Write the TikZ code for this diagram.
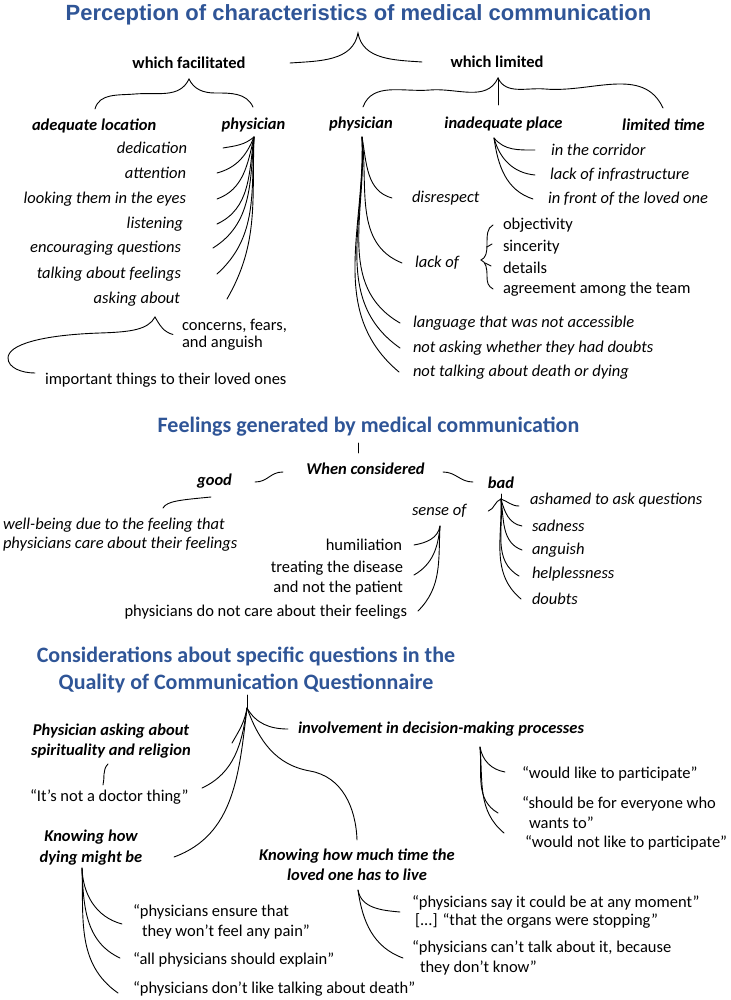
\documentclass[tikz,border=0pt]{standalone}
\usepackage{fontspec}
\setmainfont{Carlito}
\newfontfamily\arialfont{Liberation Sans}
\definecolor{tblue}{RGB}{47,85,151}
\tikzset{
  every node/.style={inner sep=0pt, outer sep=0pt},
  tone/.style={font=\arialfont\bfseries\fontsize{22}{26}\selectfont, text=tblue},
  ttwo/.style={font=\bfseries\fontsize{22}{27}\selectfont, text=tblue, align=center},
  bh/.style={font=\bfseries\fontsize{16.5}{20}\selectfont},
  bi/.style={font=\bfseries\itshape\fontsize{16.5}{20}\selectfont, align=center},
  it/.style={font=\itshape\fontsize{16.5}{20}\selectfont, align=left},
  rg/.style={font=\fontsize{16.5}{20}\selectfont, align=left},
  ln/.style={line width=0.9pt, line cap=round}
}
\begin{document}
\begin{tikzpicture}[x=1pt,y=1pt]
\useasboundingbox (0,0) rectangle (730,-1000);
\fill[white] (0,0) rectangle (730,-1000);
% ---------------- Section 1 ----------------
\node[tone] (title1) at (358.5,-15) {Perception of characteristics of medical communication};
\node[bh] (wf) at (189,-63) {which facilitated};
\node[bh] (wl) at (497,-62) {which limited};
\node[bi, anchor=west] (adloc) at (32,-126) {adequate location};
\node[bi] (phf) at (253.5,-125) {physician};
\node[bi] (phl) at (361,-124) {physician};
\node[bi] (inp) at (503.5,-124) {inadequate place};
\node[bi] (lt) at (663.5,-125) {limited time};

\node[it, anchor=east] (ded) at (187,-148) {dedication};
\node[it, anchor=east] (att) at (186,-173) {attention};
\node[it, anchor=east] (look) at (186,-199) {looking them in the eyes};
\node[it, anchor=east] (lis) at (183,-224) {listening};
\node[it, anchor=east] (enc) at (181,-248) {encouraging questions};
\node[it, anchor=east] (talk) at (181,-274) {talking about feelings};
\node[it, anchor=east] (ask) at (180,-299) {asking about};
\node[rg, anchor=west] (conc) at (182,-334.5) {concerns, fears,\\[-3pt]and anguish};
\node[rg, anchor=west] (imp) at (45,-380) {important things to their loved ones};

\node[it, anchor=west] (disr) at (412,-198) {disrespect};
\node[it, anchor=west] (lackof) at (415,-263) {lack of};
\node[rg, anchor=west] (obj) at (503,-225) {objectivity};
\node[rg, anchor=west] (sinc) at (503,-247) {sincerity};
\node[rg, anchor=west] (det) at (503,-268) {details};
\node[rg, anchor=west] (agr) at (503,-289) {agreement among the team};
\node[it, anchor=west] (lang) at (413,-323) {language that was not accessible};
\node[it, anchor=west] (nask) at (413,-348) {not asking whether they had doubts};
\node[it, anchor=west] (ntalk) at (413,-372) {not talking about death or dying};
\node[it, anchor=west] (corr) at (551,-150) {in the corridor};
\node[it, anchor=west] (infra) at (550,-175) {lack of infrastructure};
\node[it, anchor=west] (front) at (548,-199) {in front of the loved one};

% braces
\coordinate (b1a) at (358,-33);
\coordinate (b1l) at (290,-63);
\coordinate (b1r) at (422,-62);
\draw[ln] (b1l) to[out=4,in=-100] (b1a) to[out=-80,in=176] (b1r);
\coordinate (bfa) at (189,-79);
\coordinate (bfl) at (95,-109);
\coordinate (bfr) at (253,-107);
\draw[ln] (bfl) to[out=75,in=185] (135,-94) to[out=5,in=-115] (bfa)
          to[out=-65,in=180] (215,-93) to[out=0,in=115] (bfr);
\coordinate (bla) at (498,-78);
\coordinate (blL) at (363,-107);
\coordinate (blR) at (663,-108);
\draw[ln] (blL) to[out=70,in=185] (430,-90) to[out=5,in=-115] (bla)
          to[out=-65,in=175] (545,-89) to[out=-5,in=115] (blR);
\draw[ln] (bla) -- (498,-105);

% physician (facilitated)
\coordinate (pfo) at (254,-137);
\draw[ln] (pfo) to[out=-140,in=10] ([xshift=36]ded.east);
\draw[ln] (pfo) to[out=-112,in=15] ([xshift=31]att.east);
\draw[ln] (pfo) to[out=-103,in=20] ([xshift=31]look.east);
\draw[ln] (pfo) to[out=-98,in=25] ([xshift=34]lis.east);
\draw[ln] (pfo) to[out=-95,in=32] ([xshift=32]enc.east);
\draw[ln] (pfo) to[out=-93,in=42] ([xshift=36]talk.east);
\draw[ln] (pfo) to[out=-92,in=60] ([xshift=47]ask.east);
% asking about brace
\coordinate (aba) at (155,-317);
\draw[ln] (aba) to[out=-60,in=165] ([xshift=-9]conc.west);
\draw[ln] (aba) .. controls (148,-330) and (130,-332) .. (100,-333)
          .. controls (40,-335) and (8,-345) .. (8,-358)
          .. controls (8,-368) and (22,-373) .. ([xshift=-10,yshift=7]imp.west);

% physician (limited)
\coordinate (plo) at (362,-137);
\draw[ln] (plo) to[out=-80,in=165] ([xshift=-20]disr.west);
\draw[ln] (plo) to[out=-83,in=158] ([xshift=-13]lackof.west);
\draw[ln] (plo) to[out=-86,in=150] ([xshift=-13]lang.west);
\draw[ln] (plo) to[out=-87,in=145] ([xshift=-13]nask.west);
\draw[ln] (plo) to[out=-88,in=140] ([xshift=-14]ntalk.west);
% lack of brace
\draw[ln] (493,-225) .. controls (487,-228) and (487,-235) .. (487,-245)
          .. controls (487,-252) and (486,-258) .. (481,-260)
          .. controls (486,-262) and (487,-268) .. (487,-276)
          .. controls (487,-283) and (488,-286) .. (493,-289);
\draw[ln] (487,-247) -- (492,-244);
\draw[ln] (485,-263) -- (491,-266);
% inadequate place
\coordinate (ipo) at (494,-138);
\draw[ln] (ipo) to[out=-50,in=180] ([xshift=-16]corr.west);
\draw[ln] (ipo) to[out=-75,in=175] ([xshift=-15]infra.west);
\draw[ln] (ipo) to[out=-82,in=162] ([xshift=-15]front.west);

% ---------------- Section 2 ----------------
\node[ttwo] (title2) at (368.5,-427) {Feelings generated by medical communication};
\node[bi] (when) at (365.5,-469) {When considered};
\node[bi] (good) at (214.5,-481) {good};
\node[bi] (bad) at (501,-483) {bad};
\node[it, anchor=west] (wellb) at (3,-534.5) {well-being due to the feeling that\\[-1pt]physicians care about their feelings};
\node[it, anchor=west] (senseof) at (412,-511) {sense of};
\node[rg, anchor=east] (humil) at (402,-545) {humiliation};
\node[rg, anchor=east, align=right] (treat) at (403,-578) {treating the disease\\and not the patient};
\node[rg, anchor=east] (pdnc) at (407,-612) {physicians do not care about their feelings};
\node[it, anchor=west] (ashamed) at (530,-500) {ashamed to ask questions};
\node[it, anchor=west] (sad) at (532,-526) {sadness};
\node[it, anchor=west] (ang) at (532,-550) {anguish};
\node[it, anchor=west] (help) at (532,-574) {helplessness};
\node[it, anchor=west] (doub) at (532,-599) {doubts};

\draw[ln] (358,-443) -- (358,-453);
\draw[ln] (255,-482) .. controls (268,-482) and (270,-472) .. (283,-472);
\draw[ln] (443,-472) .. controls (456,-472) and (460,-482) .. (473,-482);
\draw[ln] (163,-508) .. controls (167,-501) and (180,-500) .. (211,-497);
\coordinate (so) at (440,-526);
\draw[ln] (so) to[out=-100,in=10] ([xshift=12]humil.east);
\draw[ln] (so) to[out=-95,in=30] ([xshift=11,yshift=3]treat.east);
\draw[ln] (so) to[out=-93,in=45] ([xshift=11,yshift=1]pdnc.east);
\coordinate (bo) at (501,-499);
\draw[ln] (501,-494) -- (bo);
\draw[ln] (bo) to[out=-20,in=180] ([xshift=-11,yshift=-6]ashamed.west);
\draw[ln] (bo) to[out=-75,in=170] ([xshift=-10]sad.west);
\draw[ln] (bo) to[out=-82,in=160] ([xshift=-10]ang.west);
\draw[ln] (bo) to[out=-85,in=150] ([xshift=-13,yshift=-2]help.west);
\draw[ln] (bo) to[out=-88,in=140] ([xshift=-11]doub.west);
\draw[ln] (bo) to[out=200,in=20] ([xshift=22]senseof.east);

% ---------------- Section 3 ----------------
\node[ttwo] (title3) at (246,-669.5) {Considerations about specific questions in the\\Quality of Communication Questionnaire};
\node[bi] (pasr) at (111,-741) {Physician asking about\\spirituality and religion};
\node[rg, anchor=west] (notdoc) at (30,-797) {“It’s not a doctor thing”};
\node[bi] (kdying) at (91,-847.5) {Knowing how\\[1pt]dying might be};
\node[bi, anchor=west] (inv) at (298,-729) {involvement in decision-making processes};
\node[bi] (ktime) at (357,-865) {Knowing how much time the\\loved one has to live};
\node[rg, anchor=west] (wlp) at (522,-774) {“would like to participate”};
\node[rg, anchor=west] (sbe) at (522,-813) {“should be for everyone who\\\hspace{7pt}wants to”};
\node[rg, anchor=west] (wnlp) at (525,-843) {“would not like to participate”};
\node[rg, anchor=west] (pit) at (412,-912) {“physicians say it could be at any moment”\\[-2pt]\hspace{3pt}[...] “that the organs were stopping”};
\node[rg, anchor=west] (pct) at (412,-958) {“physicians can’t talk about it, because\\\hspace{8pt}they don’t know”};
\node[rg, anchor=west] (pens) at (133,-922) {“physicians ensure that\\\hspace{9pt}they won’t feel any pain”};
\node[rg, anchor=west] (pall) at (133,-960) {“all physicians should explain”};
\node[rg, anchor=west] (pdl) at (133,-989) {“physicians don’t like talking about death”};

\coordinate (qo) at (247,-708);
\draw[ln] (247,-695) -- (qo);
\draw[ln] (qo) to[out=-60,in=180] ([xshift=-10]inv.west);
\draw[ln] (qo) to[out=-100,in=60] (232,-743);
\draw[ln] (qo) to[out=-98,in=25] (202,-788);
\draw[ln] (qo) to[out=-97,in=20] (174,-857);
\draw[ln] (qo) to[out=-70,in=170] (310,-771) to[out=-10,in=92] (357,-840);
\draw[ln] (108,-764) .. controls (102,-770) and (105,-778) .. (103,-785);
\coordinate (do) at (82,-868);
\draw[ln] (do) to[out=-88,in=165] (122,-924);
\draw[ln] (do) to[out=-88,in=155] ([xshift=-13,yshift=2]pall.west);
\draw[ln] (do) to[out=-88,in=145] ([xshift=-15,yshift=-4]pdl.west);
\coordinate (to) at (358,-890);
\draw[ln] (to) to[out=-80,in=175] ([xshift=-12]pit.west);
\draw[ln] (to) to[out=-82,in=160] ([xshift=-9]pct.west);
\coordinate (io) at (480,-747);
\draw[ln] (io) to[out=-80,in=170] ([xshift=-17,yshift=2]wlp.west);
\draw[ln] (io) to[out=-85,in=150] ([xshift=-24]sbe.west);
\draw[ln] (io) to[out=-85,in=140] ([xshift=-21,yshift=10]wnlp.west);
\end{tikzpicture}
\end{document}
